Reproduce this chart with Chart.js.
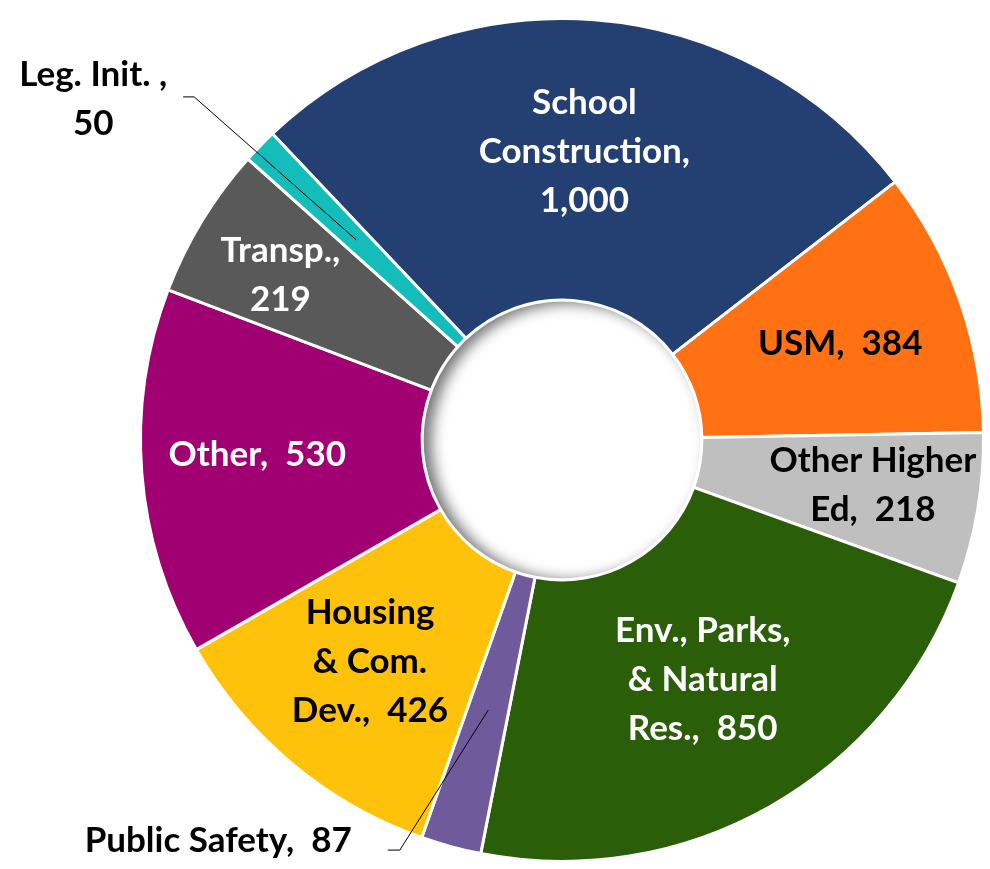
<!DOCTYPE html>
<html>
<head>
<meta charset="utf-8">
<script src="https://cdn.jsdelivr.net/npm/chart.js@4/dist/chart.umd.min.js"></script>
<style>
  html, body { margin: 0; padding: 0; background: #fff; }
  #wrap { width: 990px; height: 869px; }
</style>
</head>
<body>
<div id="wrap"><canvas id="myChart"></canvas></div>
<script>
// data, clockwise from the top-left
const categories = [
  'School Construction',
  'USM',
  'Other Higher Ed',
  'Env., Parks, & Natural Res.',
  'Public Safety',
  'Housing & Com. Dev.',
  'Other',
  'Transp.',
  'Leg. Init.',
];
const amounts = [1000, 384, 218, 850, 87, 426, 530, 219, 50];
const labelLines = [
  ['School', 'Construction,', '1,000'],
  ['USM,  384'],
  ['Other Higher', 'Ed,  218'],
  ['Env., Parks,', '& Natural', 'Res.,  850'],
  ['Public Safety,  87'],
  ['Housing', '& Com.', 'Dev.,  426'],
  ['Other,  530'],
  ['Transp.,', '219'],
  ['Leg. Init. ,', '50'],
];
const sliceColors = [
  '#243F72', '#FF7112', '#BFBFBF', '#2A5E08', '#6F5A9C',
  '#FFC20A', '#A00071', '#595959', '#14BCBA',
];

// label layout: radius from centre (px), text colour, optional leader line
const labelLayout = [
  { r: 290, color: '#fff' },
  { r: 295, color: '#000' },
  { r: 314, color: '#000', da: -1.3 },
  { r: 277, color: '#fff', da: -1 },
  { outside: true, tip: 280, elbow: 441, elbowDa: 6.3, tail: -12, tx: -36, ty: -11, align: 'right', color: '#000' },
  { r: 292, color: '#000', da: 1.3 },
  { r: 305, color: '#fff', da: 2 },
  { r: 327, color: '#fff', da: -0.8 },
  { outside: true, tip: 287, elbow: 503, elbowDa: -1.2, tail: -11, tx: -90, ty: -23, align: 'center', color: '#000' },
];

const FONT = 'bold 35px Lato';
const LINE_H = 49;
const CAP_HALF = 12.5;

const holeShadow = {
  id: 'holeShadow',
  afterDatasetsDraw(chart) {
    const arc = chart.getDatasetMeta(0).data[0];
    const { x, y, innerRadius } = arc;
    const ctx = chart.ctx;
    ctx.save();
    ctx.beginPath();
    ctx.arc(x, y, innerRadius - 1.5, 0, Math.PI * 2);
    ctx.clip();
    ctx.shadowColor = 'rgba(0,0,0,0.55)';
    ctx.shadowBlur = 14;
    ctx.shadowOffsetX = 8;
    ctx.shadowOffsetY = 2;
    ctx.strokeStyle = '#fff';
    ctx.lineWidth = 40;
    ctx.beginPath();
    ctx.arc(x, y, innerRadius + 18.5, 0, Math.PI * 2);
    ctx.stroke();
    ctx.restore();
  },
};

const sliceLabels = {
  id: 'sliceLabels',
  afterDraw(chart) {
    const ctx = chart.ctx;
    const arcs = chart.getDatasetMeta(0).data;
    ctx.save();
    ctx.font = FONT;
    ctx.textBaseline = 'alphabetic';
    arcs.forEach((arc, i) => {
      const lay = labelLayout[i];
      const lines = labelLines[i];
      const cx = arc.x;
      const cy = arc.y;
      ctx.fillStyle = lay.color;
      if (lay.outside) {
        const a0 = (arc.startAngle + arc.endAngle) / 2;
        const a1 = a0 + lay.elbowDa * Math.PI / 180;
        const px = cx + Math.cos(a0) * lay.tip;
        const py = cy + Math.sin(a0) * lay.tip;
        const ex = cx + Math.cos(a1) * lay.elbow;
        const ey = cy + Math.sin(a1) * lay.elbow;
        ctx.strokeStyle = '#000';
        ctx.lineWidth = 1;
        ctx.beginPath();
        ctx.moveTo(px, py);
        ctx.lineTo(ex, ey);
        ctx.lineTo(ex + lay.tail, ey);
        ctx.stroke();
        ctx.textAlign = lay.align;
        const tx = ex + lay.tail + lay.tx;
        const first = ey + lay.ty;
        lines.forEach((t, k) => ctx.fillText(t, tx, first + k * LINE_H + CAP_HALF));
      } else {
        const mid = (arc.startAngle + arc.endAngle) / 2 + ((lay.da || 0) * Math.PI / 180);
        const lx = cx + Math.cos(mid) * lay.r;
        const ly = cy + Math.sin(mid) * lay.r;
        ctx.textAlign = 'center';
        const first = ly - (lines.length - 1) * LINE_H / 2;
        lines.forEach((t, k) => ctx.fillText(t, lx, first + k * LINE_H + CAP_HALF));
      }
    });
    ctx.restore();
  },
};

const ctx = document.getElementById('myChart');
const myChart = new Chart(ctx, {
  type: 'doughnut',
  data: {
    labels: categories,
    datasets: [
      {
        data: amounts,
        backgroundColor: sliceColors,
        borderColor: '#fff',
        borderWidth: 3,
      },
    ],
  },
  options: {
    responsive: true,
    maintainAspectRatio: false,
    animation: false,
    rotation: -43.4,
    cutout: '33.2%',
    layout: { padding: { top: 17, bottom: 6, left: 139, right: 5 } },
    plugins: {
      legend: { display: false },
      tooltip: { enabled: false },
    },
  },
  plugins: [holeShadow, sliceLabels],
});
</script>
</body>
</html>
